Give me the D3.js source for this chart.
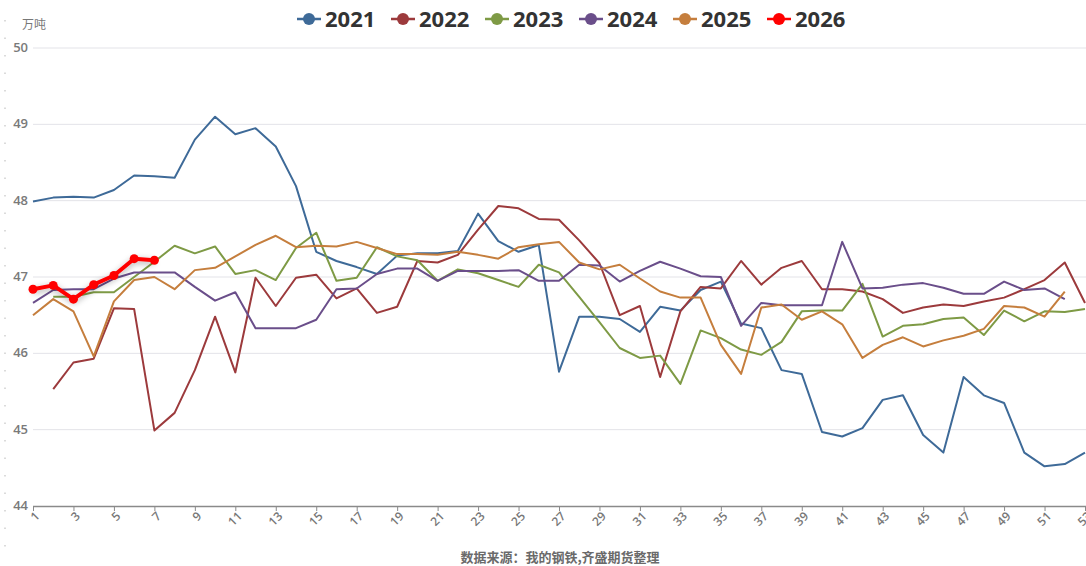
<!DOCTYPE html>
<html><head><meta charset="utf-8">
<script src="https://cdn.jsdelivr.net/npm/d3@7"></script>
<style>body{margin:0;background:#fff;}svg{display:block;font-family:"Open Sans","Noto Sans",sans-serif;}</style>
</head><body><svg id="c" width="1086" height="566"></svg>
<script>
const weeks = d3.range(1, 54);
const tickWeeks = d3.range(1, 54, 2);
const yTicks = [44, 45, 46, 47, 48, 49, 50];
const seriesNames = ["2021", "2022", "2023", "2024", "2025", "2026"];
const v2021 = [47.99,48.04,48.05,48.04,48.14,48.33,48.32,48.30,48.80,49.10,48.87,48.95,48.71,48.19,47.33,47.21,47.13,47.04,47.28,47.31,47.31,47.34,47.83,47.47,47.33,47.42,45.76,46.48,46.48,46.45,46.28,46.61,46.56,46.83,46.94,46.39,46.33,45.78,45.73,44.97,44.91,45.02,45.39,45.45,44.93,44.70,45.69,45.45,45.35,44.70,44.52,44.55,44.70];
const v2022 = [null,45.53,45.88,45.93,46.59,46.58,44.99,45.22,45.78,46.48,45.75,46.99,46.62,46.99,47.03,46.72,46.85,46.53,46.61,47.21,47.19,47.29,47.62,47.93,47.90,47.76,47.75,47.48,47.18,46.50,46.62,45.69,46.55,46.87,46.85,47.21,46.90,47.12,47.21,46.84,46.84,46.81,46.71,46.53,46.60,46.64,46.62,46.68,46.73,46.84,46.96,47.19,46.66];
const v2023 = [null,46.74,46.74,46.80,46.80,47.00,47.20,47.41,47.31,47.40,47.04,47.09,46.96,47.38,47.58,46.95,46.99,47.39,47.27,47.22,46.95,47.10,47.05,46.96,46.87,47.16,47.06,46.74,46.41,46.07,45.94,45.97,45.60,46.30,46.20,46.05,45.98,46.15,46.55,46.56,46.56,46.91,46.22,46.36,46.38,46.45,46.47,46.24,46.56,46.42,46.55,46.54,46.58];
const v2024 = [46.66,46.83,46.84,46.84,46.98,47.06,47.06,47.06,46.87,46.69,46.80,46.33,46.33,46.33,46.44,46.84,46.85,47.04,47.11,47.11,46.95,47.08,47.08,47.08,47.09,46.95,46.95,47.16,47.15,46.94,47.08,47.20,47.11,47.01,47.00,46.36,46.66,46.63,46.63,46.63,47.46,46.85,46.86,46.90,46.92,46.86,46.78,46.78,46.94,46.83,46.85,46.71,null];
const v2025 = [46.50,46.71,46.55,45.96,46.68,46.96,47.00,46.84,47.09,47.12,47.27,47.42,47.54,47.39,47.41,47.40,47.46,47.38,47.30,47.30,47.29,47.33,47.29,47.24,47.39,47.43,47.46,47.19,47.10,47.16,46.98,46.81,46.73,46.73,46.11,45.73,46.60,46.64,46.44,46.55,46.38,45.94,46.11,46.21,46.09,46.17,46.23,46.32,46.62,46.60,46.48,46.81,null];
const v2026 = [46.84,46.89,46.71,46.90,47.02,47.24,47.22];
const seriesValues = [v2021, v2022, v2023, v2024, v2025, v2026];
const colors = ["#3e6a98", "#9c3a3c", "#7e9a45", "#6a4e8a", "#c57e3d", "#ff0000"];

const svg = d3.select("#c");
const x = d3.scaleLinear().domain([1, 53]).range([33, 1085]);
const y = d3.scaleLinear().domain([44, 50]).range([506, 48]);

const defs = svg.append("defs");
const f = defs.append("filter").attr("id","sh").attr("x","-20%").attr("y","-50%").attr("width","140%").attr("height","200%");
f.append("feDropShadow").attr("dx",0).attr("dy",2).attr("stdDeviation",3).attr("flood-color","#000").attr("flood-opacity",0.35);

// left faint dotted edge
svg.append("line").attr("x1",5).attr("x2",5).attr("y1",20).attr("y2",560)
  .attr("stroke","#cfcfcf").attr("stroke-width",1.5).attr("stroke-dasharray","1.5,16");

// grid
svg.append("g").selectAll("line").data(yTicks.filter(d => d > 44)).join("line")
  .attr("x1", 33).attr("x2", 1086).attr("y1", d => y(d)).attr("y2", d => y(d))
  .attr("stroke", "#e3e3e8").attr("stroke-width", 1);

// y labels
svg.append("g").selectAll("text").data(yTicks).join("text")
  .attr("x", 28).attr("y", d => y(d) + 4).attr("text-anchor", "end")
  .attr("font-size", 13).attr("font-weight", 600).attr("fill", "#7a7a7a").text(d => d);
svg.append("text").attr("x", 22).attr("y", 29).attr("font-size", 12).attr("fill", "#777")
  .attr("font-family", "Noto Sans CJK SC").text("万吨");

// x axis
const xAxis = d3.axisBottom(x).tickValues(tickWeeks).tickSize(5).tickFormat(d => d);
const gx = svg.append("g").attr("transform", "translate(0,506)").call(xAxis);
gx.select(".domain").attr("d", "M33,0.5H1086").attr("stroke", "#8a8a8a").attr("stroke-width", 1.5);
gx.selectAll(".tick line").attr("stroke", "#8a8a8a");
gx.selectAll(".tick text").attr("font-size", 12).attr("font-weight", 600).attr("fill", "#777")
  .attr("font-family", "Open Sans").attr("text-anchor", "end")
  .attr("transform", "translate(4,8) rotate(-45)").attr("dy", "0.35em").attr("y", 0);

// lines
const line = d3.line().defined(d => d[1] != null).x(d => x(d[0])).y(d => y(d[1]));
seriesValues.forEach((vals, i) => {
  const pts = vals.map((v, j) => [weeks[j], v]);
  const is26 = i === 5;
  svg.append("path").datum(pts).attr("d", line).attr("fill", "none")
    .attr("stroke", colors[i]).attr("stroke-width", is26 ? 4 : 2)
    .attr("stroke-linejoin", "round")
    .attr("filter", is26 ? "url(#sh)" : null);
  if (is26) {
    svg.append("g").selectAll("circle").data(pts).join("circle")
      .attr("cx", d => x(d[0])).attr("cy", d => y(d[1])).attr("r", 4.5).attr("fill", colors[i]);
  }
});

// legend
const lg = svg.append("g");
const lx0 = 297, step = 94;
seriesNames.forEach((n, i) => {
  const gx0 = lx0 + i * step;
  lg.append("line").attr("x1", gx0).attr("x2", gx0 + 24).attr("y1", 19).attr("y2", 19)
    .attr("stroke", colors[i]).attr("stroke-width", 2.5);
  lg.append("circle").attr("cx", gx0 + 12).attr("cy", 19).attr("r", 6).attr("fill", colors[i]);
  lg.append("text").attr("x", gx0 + 28).attr("y", 27).attr("font-size", 22).attr("font-weight", 700)
    .attr("fill", "#333").text(n);
});

// source
svg.append("text").attr("x", 560).attr("y", 562).attr("text-anchor", "middle")
  .attr("font-size", 13).attr("font-weight", 700).attr("fill", "#6a6a6a")
  .attr("font-family", "Noto Sans CJK SC").text("数据来源：我的钢铁,齐盛期货整理");
</script></body></html>
